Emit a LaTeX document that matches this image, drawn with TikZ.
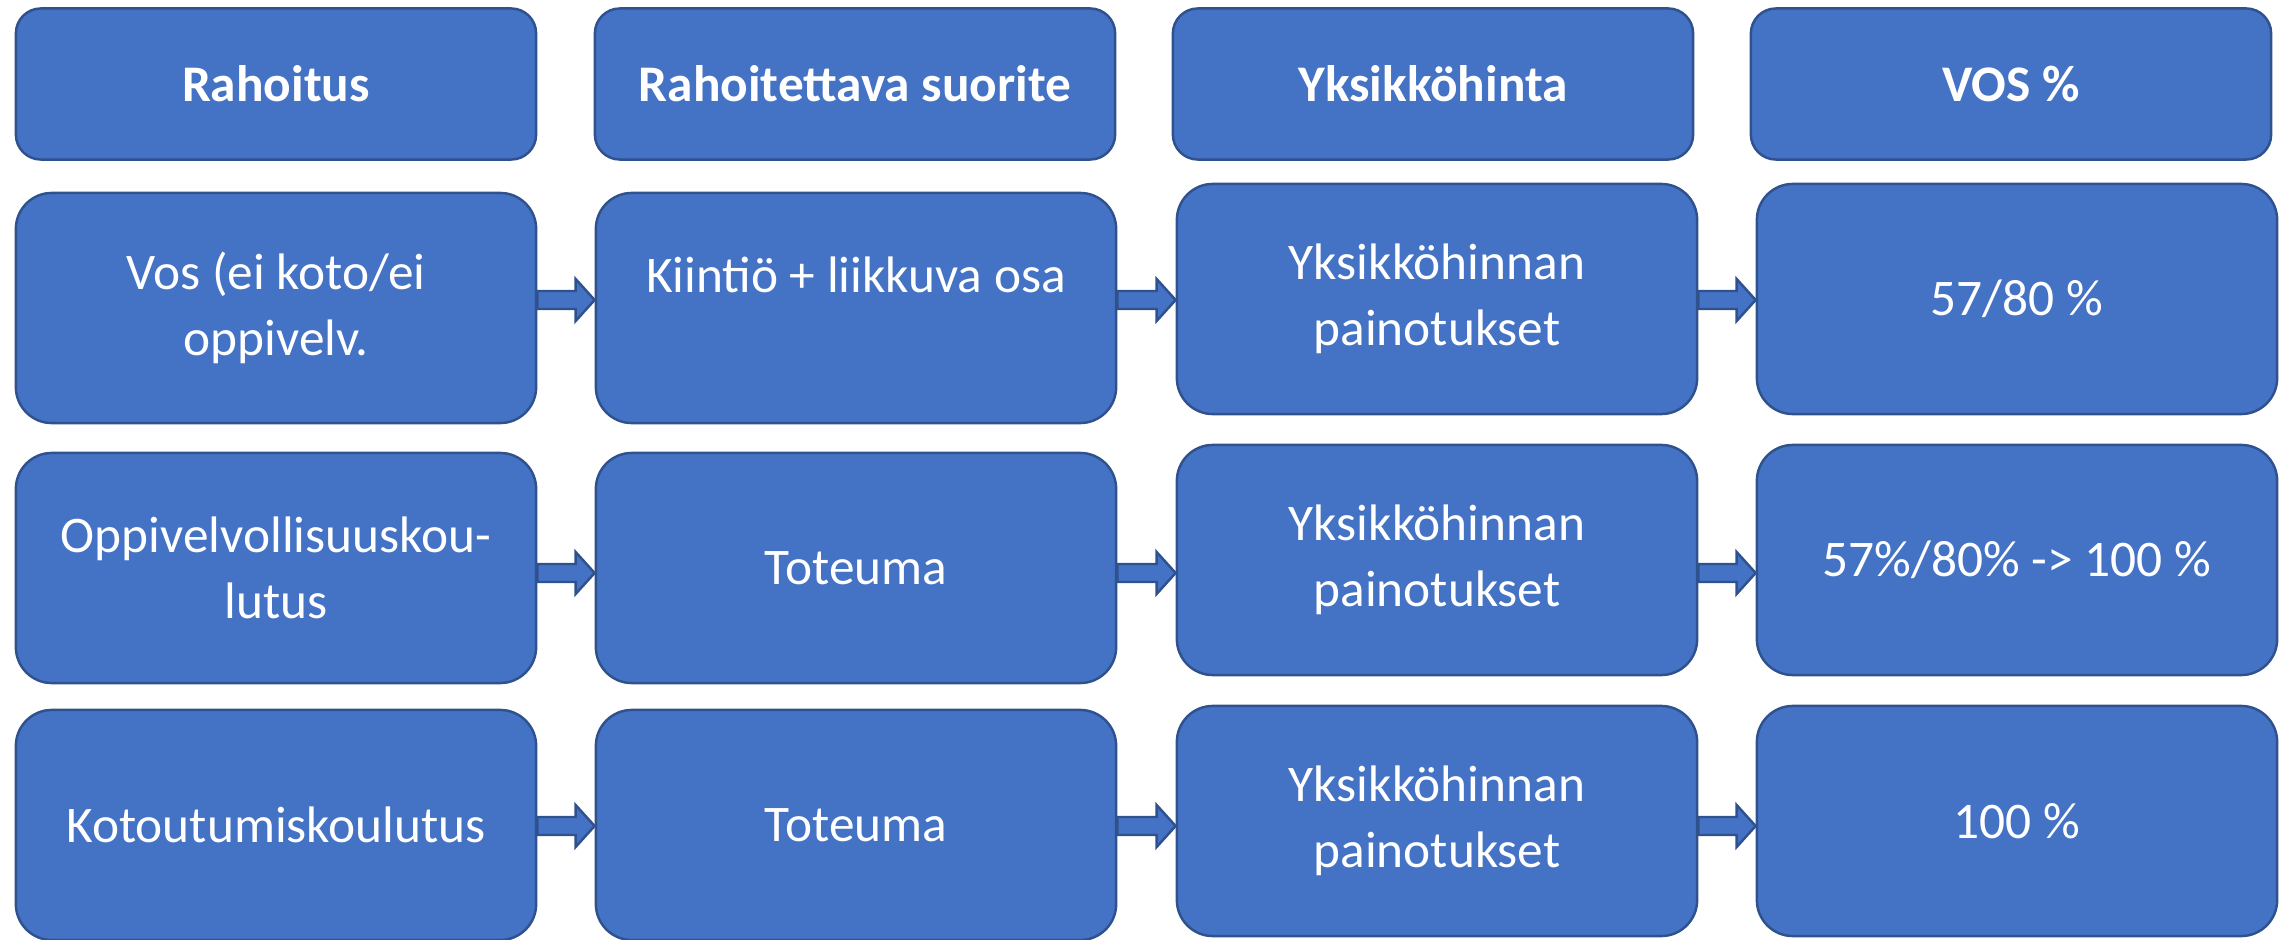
\documentclass[tikz,border=0pt]{standalone}
\usepackage{fontspec}
\setmainfont{Carlito}
\usepackage{tikz}
\usetikzlibrary{calc}
\tikzset{
  cellbox/.style ={draw=boxedge, fill=boxblue, line width=0.7pt,
                   rounded corners=0.36cm, align=center, text=white,
                   minimum width=5.2cm, minimum height=2.3cm,
                   font=\fontsize{14.6}{18.8}\selectfont, inner sep=2pt},
  headbox/.style ={cellbox, rounded corners=0.25cm, minimum height=1.51cm,
                   font=\fontsize{14.6}{18.8}\selectfont\bfseries},
  blockarr/.style={draw=boxedge, fill=boxblue, line width=0.7pt,
                   line join=miter},
}
\definecolor{boxblue}{RGB}{68,114,196}
\definecolor{boxedge}{RGB}{47,82,143}

% block arrow from #1 to #2 at height #3
\newcommand{\blockarrow}[3]{%
  \coordinate (bt) at (#1.east |- 0,#3);
  \coordinate (bp) at (#2.west |- 0,#3);
  \draw[blockarr] ($(bt)+(0,-9)$) -- ($(bp)+(-19,-9)$) -- ++(0,-12) -- (bp)
    -- ++(-19,21) -- ++(0,-12) -- ($(bt)+(0,9)$) -- cycle;}

\begin{document}
\begin{tikzpicture}[x=0.01cm,y=-0.01cm]
  \useasboundingbox (0,0) rectangle (2288,940);
  % headers
  \node[headbox] (hrah) at (276,84)  {Rahoitus};
  \node[headbox] (hsuo) at (855,84)  {Rahoitettava suorite};
  \node[headbox] (hyks) at (1433,84) {Yksikköhinta};
  \node[headbox] (hvos) at (2011,84) {VOS \%};
  % rows
  \node[cellbox] (vos)   at (276,308)  {Vos (ei koto/ei\\oppivelv.};
  \node[cellbox] (kiint) at (856,308)  {Kiintiö + liikkuva osa\\ \mbox{}};
  \node[cellbox] (yhA)   at (1437,299) {Yksikköhinnan\\painotukset};
  \node[cellbox] (pctA)  at (2017,299) {57/80 \%};
  \node[cellbox] (oppi)  at (276,568)  {Oppivelvollisuuskou-\\lutus};
  \node[cellbox] (totA)  at (856,568)  {Toteuma};
  \node[cellbox] (yhB)   at (1437,560) {Yksikköhinnan\\painotukset};
  \node[cellbox] (pctB)  at (2017,560) {57\%/80\% -> 100 \%};
  \node[cellbox] (koto)  at (276,825)  {Kotoutumiskoulutus};
  \node[cellbox] (totB)  at (856,825)  {Toteuma};
  \node[cellbox] (yhC)   at (1437,821) {Yksikköhinnan\\painotukset};
  \node[cellbox] (pctC)  at (2017,821) {100 \%};
  % arrows
  \blockarrow{vos}{kiint}{300}
  \blockarrow{kiint}{yhA}{300}
  \blockarrow{yhA}{pctA}{300}
  \blockarrow{oppi}{totA}{573}
  \blockarrow{totA}{yhB}{573}
  \blockarrow{yhB}{pctB}{573}
  \blockarrow{koto}{totB}{826}
  \blockarrow{totB}{yhC}{826}
  \blockarrow{yhC}{pctC}{826}
\end{tikzpicture}
\end{document}
